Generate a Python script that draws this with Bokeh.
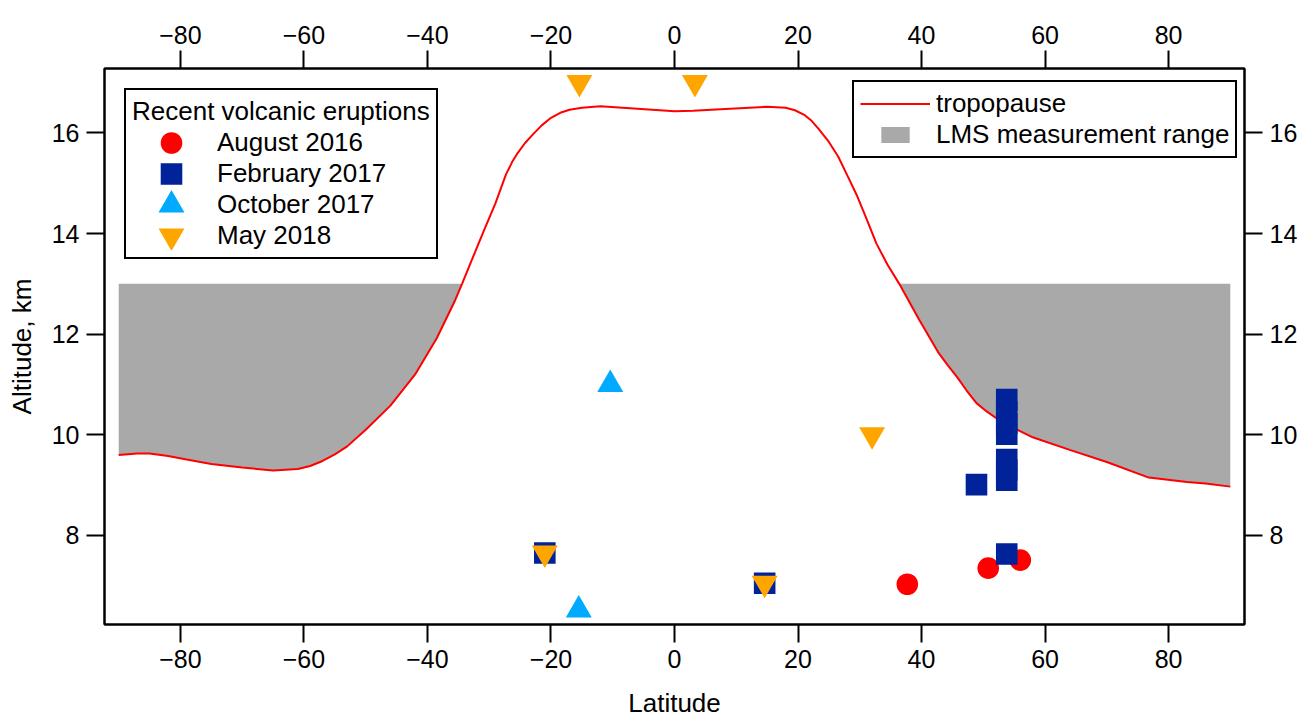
import numpy as np
from bokeh.plotting import figure
from bokeh.models import Range1d, LinearAxis, FixedTicker, Legend, LegendItem
from bokeh.embed import file_html
from bokeh.resources import INLINE

# ---------------- data ----------------
trop_lat = [-90, -87, -85, -82, -79, -75, -70, -65, -61, -59, -57, -55, -53, -50,
            -46, -42, -38.5, -35.5, -34.4, -33, -31, -29, -27.3, -26.3, -25.4,
            -24.2, -23, -21.5, -20, -18.5, -17, -15, -12, -6, 0, 3, 9, 15, 18,
            19.5, 21, 22.2, 23.4, 25, 26.5, 28, 29.6, 31, 32.7, 34.5, 36.4, 39.6,
            42.7, 44.2, 45.8, 47.3, 48.9, 50.5, 52, 53.5, 55, 58, 64, 70, 76.8,
            83, 86, 90]
trop_alt = [9.60, 9.63, 9.63, 9.58, 9.51, 9.42, 9.35, 9.29, 9.32, 9.38, 9.48, 9.61,
            9.77, 10.10, 10.58, 11.20, 11.92, 12.68, 13.0, 13.42, 14.02, 14.60,
            15.17, 15.42, 15.60, 15.80, 15.96, 16.15, 16.30, 16.40, 16.46, 16.50,
            16.53, 16.48, 16.43, 16.44, 16.48, 16.52, 16.50, 16.45, 16.36, 16.24,
            16.07, 15.82, 15.53, 15.15, 14.74, 14.32, 13.80, 13.38, 13.0, 12.29,
            11.64, 11.39, 11.14, 10.88, 10.63, 10.47, 10.34, 10.23, 10.13, 9.95,
            9.70, 9.46, 9.15, 9.06, 9.03, 8.97]
lms_top = 13.0

aug2016_lat = [37.7, 50.8, 56.0]
aug2016_alt = [7.03, 7.35, 7.51]

feb2017_lat = [-21.0, 14.6, 48.9, 53.8, 53.8, 53.8, 53.8, 53.8, 53.8, 53.8, 53.8]
feb2017_alt = [7.65, 7.05, 9.01, 10.70, 10.45, 10.22, 10.01, 9.51, 9.30, 9.10, 7.63]

oct2017_lat = [-10.4, -15.5]
oct2017_alt = [11.0, 6.52]

may2018_lat = [-15.4, 3.3, 32.0, -21.0, 14.6]
may2018_alt = [17.0, 17.0, 10.0, 7.65, 7.05]

x_ticks = [-80, -60, -40, -20, 0, 20, 40, 60, 80]
y_ticks = [8, 10, 12, 14, 16]

FONT = "Liberation Sans"

p = figure(width=1305, height=720,
           x_range=Range1d(-92.3, 92.3), y_range=Range1d(6.23, 17.28),
           output_backend="svg", toolbar_location=None,
           min_border_left=104, min_border_right=61,
           min_border_top=68, min_border_bottom=92)
p.grid.visible = False
p.outline_line_color = "black"
p.outline_line_width = 2
p.outline_line_alpha = 1.0
p.background_fill_color = "white"
p.border_fill_color = "white"

# gray LMS measurement range between tropopause and 13 km
trop_arr = np.array(trop_alt)
p.varea(x=trop_lat, y1=np.minimum(trop_arr, lms_top), y2=lms_top,
        fill_color="#A9A9A9", fill_alpha=1.0)
r_trop = p.line(trop_lat, trop_alt, line_color="#FF0000", line_width=2)

MS = 11.6  # marker core size (legend draws 0.4 * glyph height)
r_aug = p.scatter(aug2016_lat, aug2016_alt, marker="circle", size=MS,
                  fill_color="#FF0000", line_color="#FF0000", line_width=10)
r_feb = p.scatter(feb2017_lat, feb2017_alt, marker="square", size=MS,
                  fill_color="#00239A", line_color="#00239A", line_width=10,
                  line_join="miter")
r_oct = p.scatter(oct2017_lat, oct2017_alt, marker="triangle", size=MS,
                  fill_color="#00AAFF", line_color="#00AAFF", line_width=8.3,
                  line_join="miter")
r_may = p.scatter(may2018_lat, may2018_alt, marker="inverted_triangle", size=MS,
                  fill_color="#FFA500", line_color="#FFA500", line_width=8.3,
                  line_join="miter")

# legend-only proxy for the gray range (NaN point, nothing drawn on the plot)
r_lms = p.scatter(x=[np.nan], y=[np.nan], marker="dash", size=12,
                  line_color="#A9A9A9", line_width=16, line_cap="square")

# axes
def style_axis(ax, ticks):
    ax.ticker = FixedTicker(ticks=ticks)
    ax.major_tick_out = 18
    ax.major_tick_in = 0
    ax.minor_tick_out = 0
    ax.minor_tick_in = 0
    ax.major_tick_line_width = 2
    ax.major_tick_line_color = "black"
    ax.axis_line_width = 2
    ax.axis_line_color = "black"
    ax.major_label_standoff = 7
    ax.major_label_text_font = FONT
    ax.major_label_text_font_size = "25px"
    ax.major_label_text_color = "black"
    ax.axis_label_text_font = FONT
    ax.axis_label_text_font_size = "26px"
    ax.axis_label_text_font_style = "normal"
    ax.axis_label_text_color = "black"
    ax.axis_label_standoff = 4

style_axis(p.xaxis[0], x_ticks)
style_axis(p.yaxis[0], y_ticks)
p.xaxis[0].axis_label = "Latitude"
p.xaxis[0].axis_label_standoff = 17
p.yaxis[0].axis_label = "Altitude, km"
p.yaxis[0].axis_label_standoff = 12
p.yaxis[0].major_label_orientation = "horizontal"

top_ax = LinearAxis()
style_axis(top_ax, x_ticks)
p.add_layout(top_ax, "above")
right_ax = LinearAxis()
style_axis(right_ax, y_ticks)
right_ax.major_label_orientation = "horizontal"
p.add_layout(right_ax, "right")

leg1 = Legend(items=[LegendItem(label="August 2016", renderers=[r_aug]),
                     LegendItem(label="February 2017", renderers=[r_feb]),
                     LegendItem(label="October 2017", renderers=[r_oct]),
                     LegendItem(label="May 2018", renderers=[r_may])],
              location="top_left", margin=20,
              title="Recent volcanic eruptions",
              title_text_font=FONT, title_text_font_size="26px",
              title_text_font_style="normal", title_text_color="black",
              title_text_line_height=1.0,
              label_text_font=FONT, label_text_font_size="26px",
              label_text_color="black", label_text_line_height=1.0,
              glyph_width=78, glyph_height=29, spacing=0, padding=6,
              title_standoff=0, label_standoff=7, label_height=29,
              border_line_color="black", border_line_width=2,
              border_line_alpha=1.0,
              background_fill_color="white", background_fill_alpha=1.0)
p.add_layout(leg1)

leg2 = Legend(items=[LegendItem(label="tropopause", renderers=[r_trop]),
                     LegendItem(label="LMS measurement range", renderers=[r_lms])],
              location=(748, 466),
              label_text_font=FONT, label_text_font_size="26px",
              label_text_color="black", label_text_line_height=1.0,
              glyph_width=70, glyph_height=31, spacing=0, padding=6,
              label_standoff=6, label_height=31,
              border_line_color="black", border_line_width=2,
              border_line_alpha=1.0,
              background_fill_color="white", background_fill_alpha=1.0)
p.add_layout(leg2)

open("out.html", "w").write(file_html(p, INLINE))
